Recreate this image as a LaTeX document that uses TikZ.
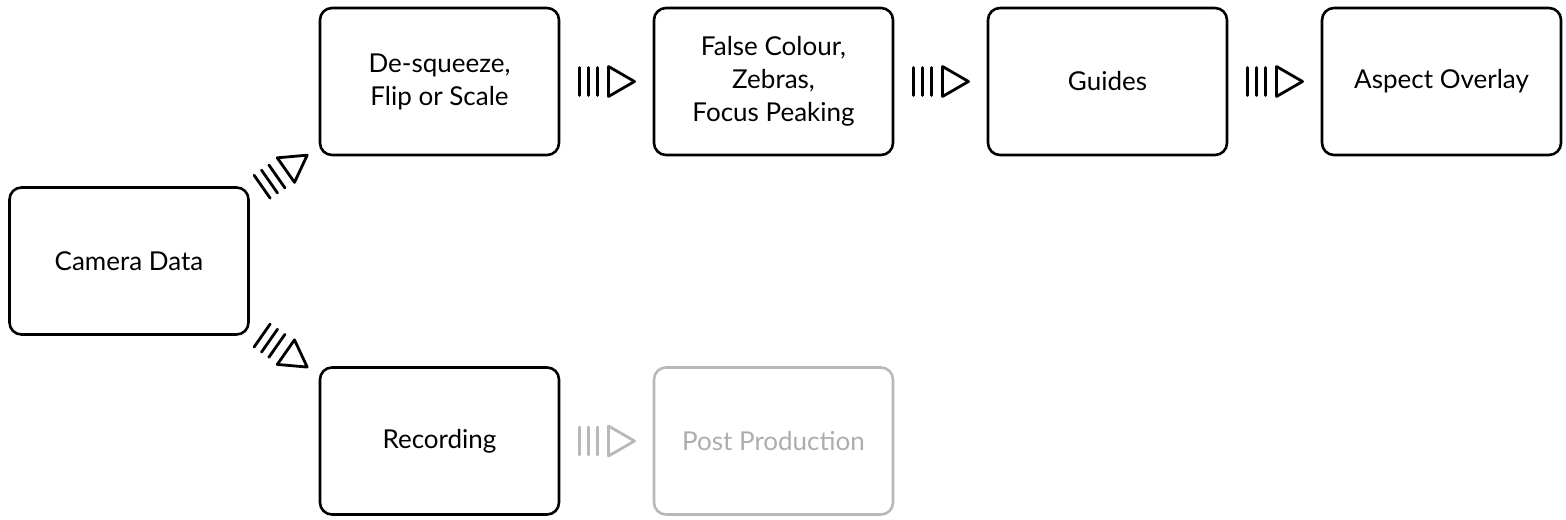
\documentclass[tikz,border=0pt]{standalone}
\usepackage{fontspec}
\setmainfont{Lato}
\usetikzlibrary{calc}

\tikzset{
  stage/.style={draw, rounded corners=6pt, line width=1.3pt, minimum width=119.5pt,
    minimum height=73.5pt, align=center, inner sep=0pt, font=\fontsize{13}{16.5}\selectfont},
  faded/.style={draw=black!28, text=black!32},
  flow/.pic={
    \draw [line width=1.4pt, line cap=round, line join=round]
      (-27,-14) -- (-27,14) (-18,-14) -- (-18,14) (-9,-14) -- (-9,14)
      (2,-15) -- (28,0) -- (2,15) -- cycle;
  }
}

\begin{document}
\begin{tikzpicture}[x=0.5pt, y=0.5pt]
\useasboundingbox (0,0) rectangle (1566,519);

\node [stage] (camera) at (129,258) {Camera Data};
\node [stage] (desqueeze) at (439.5,437.5) {De-squeeze,\\Flip or Scale};
\node [stage] (falsecol) at (773.5,437.5) {False Colour,\\Zebras,\\Focus Peaking};
\node [stage] (guides) at (1107.5,437.5) {Guides};
\node [stage] (aspect) at (1441.5,437.5) {Aspect Overlay};
\node [stage] (recording) at (439.5,78) {Recording};
\node [stage, faded] (postprod) at (773.5,78) {Post Production};

\pic [rotate=35] at ($(camera.north east)!0.5!(desqueeze.south west)$) {flow};
\pic [rotate=-35] at ($(camera.south east)!0.5!(recording.north west)$) {flow};
\pic at ($(desqueeze.east)!0.5!(falsecol.west)$) {flow};
\pic at ($(falsecol.east)!0.5!(guides.west)$) {flow};
\pic at ($(guides.east)!0.5!(aspect.west)$) {flow};
\pic [black!28] at ($(recording.east)!0.5!(postprod.west)$) {flow};
\end{tikzpicture}
\end{document}
